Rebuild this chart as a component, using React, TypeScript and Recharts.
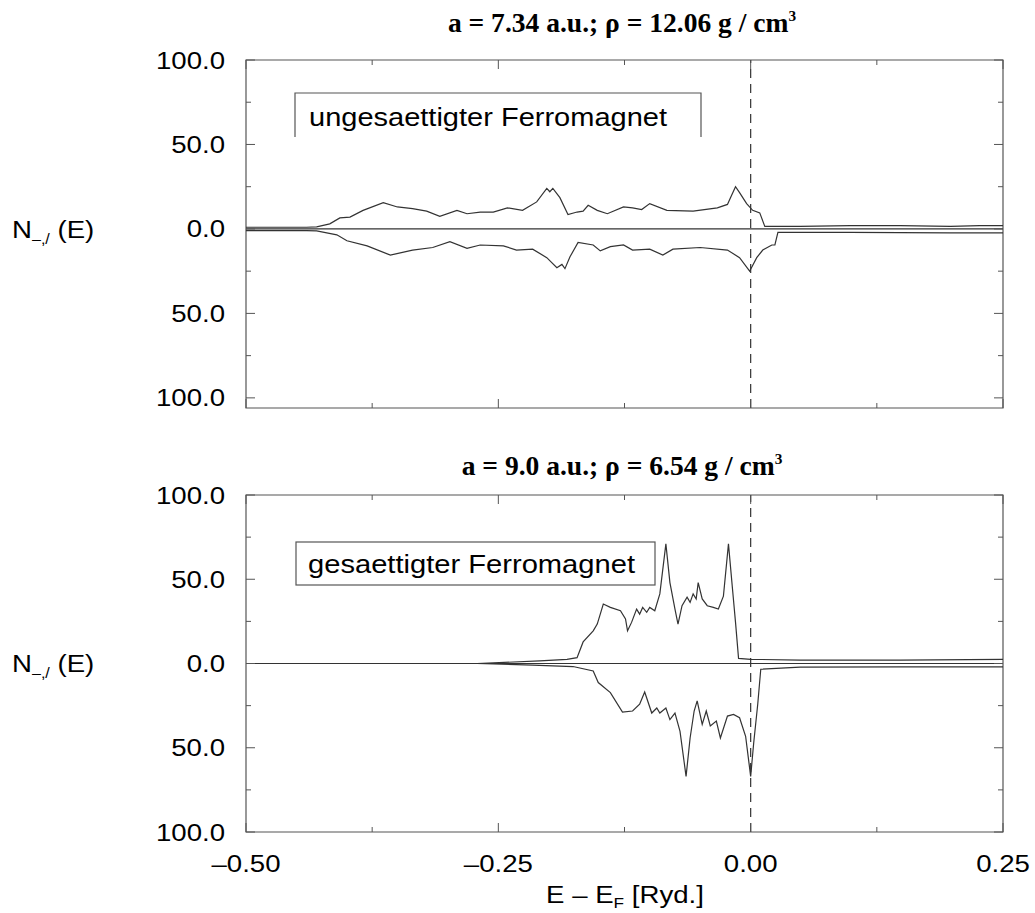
import { LineChart, Line, XAxis, YAxis, ReferenceLine, ReferenceArea } from "recharts";

// Density of states, majority (up) and minority (down, drawn negative) per volume
const TOP_MAJORITY: [number, number][] = [
  [-0.5, 1], [-0.44, 1], [-0.43, 1.2], [-0.417, 3], [-0.407, 6.5], [-0.397, 7], [-0.384, 11],
  [-0.364, 15.5], [-0.35, 13], [-0.335, 12], [-0.321, 10.5], [-0.308, 7.5], [-0.291, 11],
  [-0.281, 9], [-0.268, 10], [-0.255, 10], [-0.241, 12.5], [-0.226, 11], [-0.212, 16],
  [-0.202, 24], [-0.199, 22], [-0.196, 24], [-0.189, 18.5], [-0.181, 8.5], [-0.172, 10],
  [-0.166, 10.5], [-0.161, 14], [-0.152, 11], [-0.142, 9], [-0.126, 13], [-0.117, 12.5],
  [-0.108, 11.5], [-0.1, 15], [-0.083, 11], [-0.057, 10.5], [-0.033, 12.5], [-0.023, 14.5],
  [-0.02, 18.5], [-0.015, 25], [-0.011, 21.5], [-0.004, 15], [0.002, 11], [0.009, 9.5],
  [0.014, 1.5], [0.049, 1.5], [0.099, 2], [0.148, 2], [0.198, 1.5], [0.227, 2], [0.25, 2],
];

const TOP_MINORITY: [number, number][] = [
  [-0.5, -1], [-0.44, -1], [-0.43, -1.2], [-0.41, -3.5], [-0.4, -7], [-0.38, -10],
  [-0.357, -15.5], [-0.335, -12.5], [-0.315, -11], [-0.298, -7.5], [-0.281, -11.5],
  [-0.268, -9.5], [-0.245, -10], [-0.232, -12.5], [-0.216, -12], [-0.202, -17], [-0.192, -23],
  [-0.187, -21], [-0.184, -23.5], [-0.179, -16.5], [-0.171, -8], [-0.156, -9.5], [-0.149, -13],
  [-0.139, -10.5], [-0.126, -9.5], [-0.117, -12.5], [-0.1, -12], [-0.087, -15.5], [-0.077, -12],
  [-0.05, -11], [-0.023, -12.5], [-0.011, -17], [-0.001, -25], [0.006, -17], [0.012, -12.5],
  [0.021, -9.5], [0.024, -9.5], [0.027, -2], [0.098, -2], [0.197, -2.3], [0.25, -2.3],
];

const BOTTOM_MAJORITY: [number, number][] = [
  [-0.271, 0], [-0.209, 1.5], [-0.182, 2.5], [-0.172, 3.5], [-0.166, 12.8], [-0.156, 19.4],
  [-0.152, 23.4], [-0.146, 35.3], [-0.139, 33.3], [-0.129, 31.3], [-0.124, 26.4], [-0.122, 19.4],
  [-0.118, 24.4], [-0.113, 32.3], [-0.11, 29.3], [-0.107, 33.3], [-0.103, 30.4], [-0.1, 33.3],
  [-0.095, 31.3], [-0.09, 41.3], [-0.084, 71], [-0.08, 48], [-0.075, 32.3], [-0.072, 23.4],
  [-0.068, 34.3], [-0.063, 39.3], [-0.06, 36.3], [-0.057, 41.3], [-0.054, 38.3], [-0.052, 48],
  [-0.048, 38.3], [-0.043, 34.3], [-0.037, 33.3], [-0.032, 32.3], [-0.027, 40], [-0.022, 71],
  [-0.018, 44.2], [-0.015, 24.4], [-0.012, 3], [0, 2.5], [0.049, 2], [0.148, 2], [0.25, 2.5],
];

const BOTTOM_MINORITY: [number, number][] = [
  [-0.271, 0], [-0.216, -1], [-0.176, -1.8], [-0.156, -4.4], [-0.151, -11.3], [-0.139, -17.3],
  [-0.127, -28.8], [-0.117, -28.2], [-0.11, -24.2], [-0.105, -16.9], [-0.098, -29.4],
  [-0.093, -26.4], [-0.09, -29.4], [-0.084, -26.4], [-0.08, -33.3], [-0.075, -29.4],
  [-0.07, -40.3], [-0.064, -67], [-0.06, -44.2], [-0.056, -28.2], [-0.053, -22.2],
  [-0.048, -36.1], [-0.044, -28.2], [-0.04, -37.1], [-0.034, -34.2], [-0.03, -44.2],
  [-0.023, -31.2], [-0.017, -30.2], [-0.011, -32.2], [-0.005, -43.2], [0, -67], [0.003, -47.2],
  [0.007, -24.2], [0.01, -3.4], [0.049, -2.2], [0.148, -2], [0.25, -2],
];

const X_TICKS = [-0.5, -0.375, -0.25, -0.125, 0, 0.125, 0.25];
const X_LABELS: Record<string, string> = { "-0.5": "\u20130.50", "-0.25": "\u20130.25", "0": "0.00", "0.25": "0.25" };
const Y_TICKS = [-100, -75, -50, -25, 0, 25, 50, 75, 100];

const SANS = "'Liberation Sans', Arial, Helvetica, sans-serif";
const SERIF = "'Liberation Serif', 'Times New Roman', serif";
const INK = "#000";
const LINE = "#333";
const FRAME = "#555";
const SX = 1.15; // the original lettering is stretched sideways

const PLOT_L = 246;
const PLOT_R = 1003;

const toPoints = (arr: [number, number][]) => arr.map(([e, n]) => ({ e, n }));

function Wide({ x, y, anchor = "start", size = 24, sx = SX, family = SANS, weight = "normal", children }: any) {
  return (
    <text
      transform={`translate(${x} ${y}) scale(${sx} 1)`}
      textAnchor={anchor}
      fontSize={size}
      fontFamily={family}
      fontWeight={weight}
      fill={INK}
    >
      {children}
    </text>
  );
}

function XTick({ x, payload, top, bottom, labels }: any) {
  const v = payload.value;
  const major = Math.abs(v * 4 - Math.round(v * 4)) < 1e-6;
  const len = major ? 9 : 5;
  return (
    <g>
      <line x1={x} x2={x} y1={bottom} y2={bottom - len} stroke={FRAME} />
      <line x1={x} x2={x} y1={top} y2={top + len} stroke={FRAME} />
      {labels && major && (
        <Wide x={x} y={bottom + 40} anchor="middle">{X_LABELS[String(v)]}</Wide>
      )}
    </g>
  );
}

function YTick({ y, payload }: any) {
  const v = payload.value;
  const major = v % 50 === 0;
  const len = major ? 9 : 5;
  return (
    <g>
      <line x1={PLOT_L} x2={PLOT_L + len} y1={y} y2={y} stroke={FRAME} />
      <line x1={PLOT_R} x2={PLOT_R - len} y1={y} y2={y} stroke={FRAME} />
      {major && (
        <Wide x={225} y={y + 8.5} anchor="end">{Math.abs(v).toFixed(1)}</Wide>
      )}
    </g>
  );
}

function Panel({ top, height, marginTop, axisHeight, yMin, up, down, labels }: any) {
  const plotBottom = height - axisHeight;
  return (
    <div style={{ position: "absolute", left: 0, top, width: 1035, height }}>
      <LineChart width={1035} height={height} margin={{ top: marginTop, right: 1035 - PLOT_R, bottom: 0, left: 0 }}>
        <XAxis
          type="number"
          dataKey="e"
          domain={[-0.5, 0.25]}
          ticks={X_TICKS}
          interval={0}
          allowDataOverflow
          axisLine={false}
          tickLine={false}
          height={axisHeight}
          tick={(p: any) => <XTick {...p} top={marginTop} bottom={plotBottom} labels={labels} />}
        />
        <YAxis
          type="number"
          domain={[yMin, 100]}
          ticks={Y_TICKS}
          interval={0}
          allowDataOverflow
          width={PLOT_L}
          axisLine={false}
          tickLine={false}
          tick={(p: any) => <YTick {...p} />}
        />
        <ReferenceArea x1={-0.5} x2={0.25} y1={yMin} y2={100} fill="none" stroke={FRAME} strokeWidth={1.2} />
        <ReferenceLine y={0} stroke={LINE} strokeWidth={1.2} />
        <ReferenceLine x={0} stroke={LINE} strokeWidth={1.2} strokeDasharray="9 6" />
        <Line data={toPoints(up)} dataKey="n" type="linear" dot={false} stroke={LINE} strokeWidth={1.2} isAnimationActive={false} />
        <Line data={toPoints(down)} dataKey="n" type="linear" dot={false} stroke={LINE} strokeWidth={1.2} isAnimationActive={false} />
      </LineChart>
    </div>
  );
}

export default function App() {
  return (
    <div style={{ position: "absolute", left: 0, top: 0, width: 1035, height: 913, background: "#fff" }}>
      <Panel top={0} height={420} marginTop={60} axisHeight={12} yMin={-106} up={TOP_MAJORITY} down={TOP_MINORITY} labels={false} />
      <Panel top={440} height={473} marginTop={55} axisHeight={81} yMin={-100} up={BOTTOM_MAJORITY} down={BOTTOM_MINORITY} labels={true} />
      <svg width={1035} height={913} style={{ position: "absolute", left: 0, top: 0, pointerEvents: "none" }}>
        <Wide x={622} y={32} anchor="middle" family={SERIF} weight="bold" size={27} sx={1.02}>
          a = 7.34 a.u.; ρ = 12.06 g / cm<tspan dy={-11} fontSize={15}>3</tspan>
        </Wide>
        <Wide x={622} y={475} anchor="middle" family={SERIF} weight="bold" size={27} sx={1.02}>
          a = 9.0 a.u.; ρ = 6.54 g / cm<tspan dy={-11} fontSize={15}>3</tspan>
        </Wide>

        <Wide x={12} y={238}>
          N<tspan dy={6} fontSize={14}>–,/</tspan><tspan dy={-6}> (E)</tspan>
        </Wide>
        <Wide x={12} y={672}>
          N<tspan dy={6} fontSize={14}>–,/</tspan><tspan dy={-6}> (E)</tspan>
        </Wide>

        <Wide x={625} y={903} anchor="middle">
          E – E<tspan dy={5} fontSize={15}>F</tspan><tspan dy={-5}> [Ryd.]</tspan>
        </Wide>

        <path d="M295 137 V93 H701 V137" fill="none" stroke={FRAME} strokeWidth={1.2} />
        <text x={309} y={126} textLength={358} lengthAdjust="spacingAndGlyphs" fontSize={25} fontFamily={SANS} fill={INK}>
          ungesaettigter Ferromagnet
        </text>

        <rect x={296} y={542} width={359} height={43} fill="none" stroke={FRAME} strokeWidth={1.2} />
        <text x={308} y={573} textLength={327} lengthAdjust="spacingAndGlyphs" fontSize={25} fontFamily={SANS} fill={INK}>
          gesaettigter Ferromagnet
        </text>
      </svg>
    </div>
  );
}
